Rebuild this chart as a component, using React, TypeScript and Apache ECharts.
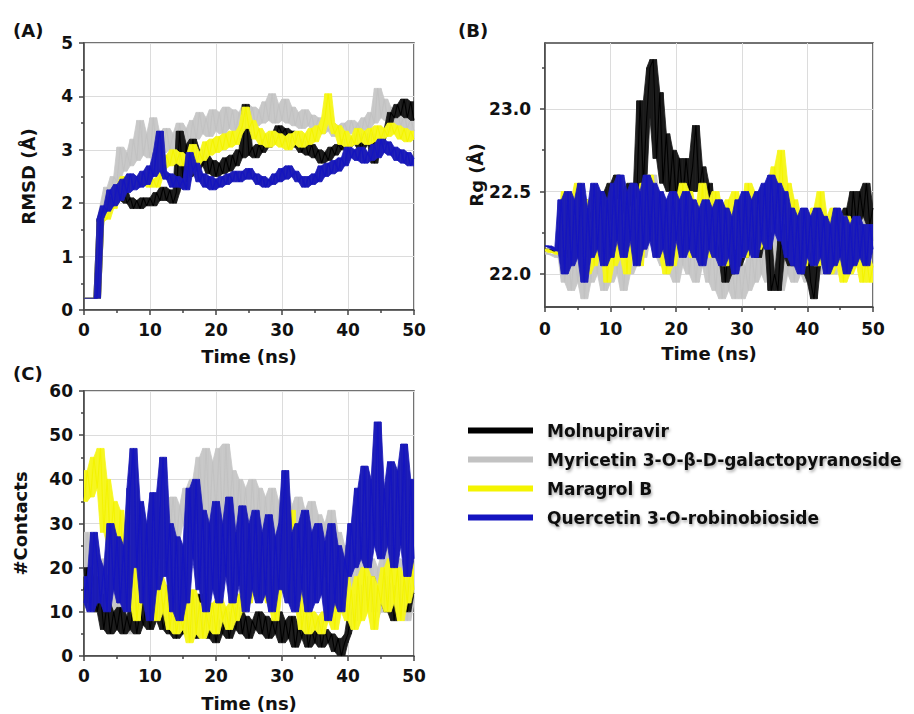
import { useEffect, useRef } from "react";
import * as echarts from "echarts";

const NAMES = [
  "Molnupiravir",
  "Myricetin 3-O-β-D-galactopyranoside",
  "Maragrol B",
  "Quercetin 3-O-robinobioside",
];
const COLORS = ["#000000", "#c2c2c2", "#f4f400", "#1414c0"];
const BAND_COLORS = ["#1a1a1a", "#c8c8c8", "#f6f620", "#1c1cb8"];
const STEP = 0.5; // ns between samples
const RG_LABELS = [22.0, 22.5, 23.0];
const RG_MINOR = [22.25, 22.75, 23.25];

// (A) RMSD (Å)
const RMSD_MOL = [0.22,0.22,0.22,0.22,0.22, 1.7,1.9,1.8,2.1,1.95, 2.2,2.05,2.3,2.0,2.1, 1.9,2.05,1.9,2.1,1.95, 2.1,1.95,2.2,2.05,2.3, 2.05,2.25,2.0,2.2,3.35, 2.4,3.1,2.5,3.2,2.6, 3.0,2.7,2.9,2.55,2.8, 2.5,2.75,2.55,2.85,2.6, 2.9,2.7,3.0,2.85,3.85, 2.9,3.05,2.85,3.1,2.95, 3.2,3.05,3.3,3.2,3.45, 3.3,3.4,3.15,3.35,3.05, 3.2,2.95,3.15,2.9,3.1, 2.85,3.0,2.75,2.95,2.8, 3.05,2.9,3.1,3.0,3.2, 3.05,3.25,3.1,3.3,3.0, 3.25,3.1,3.3,2.75,3.2, 3.1,3.4,3.35,3.7,3.6, 3.85,3.65,3.95,3.6,3.9, 3.55];
const RMSD_MYR = [0.22,0.22,0.22,0.22,0.22, 1.7,2.0,2.3,2.1,2.5, 2.4,3.05,2.6,2.95,2.7, 3.2,2.8,3.55,2.9,3.3, 2.85,3.6,3.0,3.3,2.95, 3.4,3.0,3.3,3.05,3.5, 3.0,3.4,3.1,3.55,3.2, 3.7,3.3,3.6,3.25,3.75, 3.35,3.7,3.3,3.8,3.4, 3.75,3.35,3.7,3.4,3.85, 3.5,3.8,3.45,3.75,3.5, 3.9,3.55,4.05,3.5,3.85, 3.55,3.95,3.5,3.8,3.45, 3.7,3.4,3.75,3.45,3.65, 3.35,3.6,3.3,3.55,3.35, 3.5,3.25,3.45,3.3,3.5, 3.3,3.55,3.35,3.5,3.3, 3.6,3.4,3.7,3.5,4.15, 3.6,3.95,3.55,3.8,3.5, 3.7,3.45,3.65,3.4,3.6, 3.35];
const RMSD_MAR = [0.22,0.22,0.22,0.22,0.22, 1.65,1.8,1.7,1.95,1.9, 2.2,2.35,2.5,2.25,2.45, 2.3,2.4,2.5,2.35,2.55, 2.3,2.45,2.3,2.5,2.65, 2.9,2.7,3.0,2.75,2.95, 2.7,2.9,2.75,3.1,2.7, 2.95,2.8,3.15,2.9,3.2, 2.95,3.25,3.0,3.3,3.05, 3.35,3.1,3.3,3.45,3.8, 3.4,3.55,3.2,3.4,3.1, 3.3,3.05,3.35,3.1,3.3, 3.05,3.25,3.0,3.3,3.1, 3.35,3.05,3.3,3.1,3.4, 3.15,3.45,3.3,3.6,4.05, 3.5,3.3,3.45,3.1,3.35, 3.05,3.25,3.1,3.4,3.15, 3.35,3.1,3.4,3.15,3.45, 3.2,3.4,3.25,3.5,3.3, 3.45,3.2,3.4,3.15,3.35, 3.2];
const RMSD_QUE = [0.22,0.22,0.22,0.22,0.22, 1.72,1.95,1.85,2.25,1.95, 2.35,2.05,2.45,2.2,2.55, 2.25,2.5,2.3,2.6,2.35, 2.7,2.5,2.95,3.35,2.6, 2.45,2.55,2.3,2.5,2.3, 2.45,2.25,2.95,2.6,2.75, 2.4,2.55,2.3,2.5,2.25, 2.45,2.3,2.5,2.35,2.55, 2.4,2.6,2.4,2.6,2.45, 2.65,2.45,2.55,2.35,2.5, 2.3,2.45,2.35,2.55,2.4, 2.65,2.45,2.7,2.5,2.6, 2.4,2.5,2.3,2.5,2.35, 2.55,2.4,2.7,2.5,2.75, 2.55,2.8,2.6,2.85,2.7, 3.05,2.85,3.0,2.8,3.05, 2.75,2.95,2.8,3.1,2.85, 3.2,2.95,3.15,2.9,3.05, 2.8,3.0,2.75,2.95,2.7, 2.85];

// (B) Rg (Å)
const RG_MOL = [22.15,22.15,22.14,22.14,22.13, 22.2,22.4,22.1,22.35,22.15, 22.4,22.2,22.45,22.15,22.35, 22.2,22.45,22.25,22.5,22.3, 22.55,22.35,22.6,22.3,22.5, 22.35,22.55,22.4,22.5,23.05, 22.55,22.95,23.25,23.3,22.7, 23.1,22.55,22.85,22.5,22.75, 22.45,22.7,22.45,22.7,22.5, 22.65,22.9,22.5,22.65,22.4, 22.55,22.2,22.35,22.1,22.25, 21.95,22.2,22.0,22.3,22.05, 22.25,22.1,22.3,22.15,22.35, 22.1,22.3,22.2,22.25,21.9, 22.0,21.9,22.2,22.1,22.3, 22.05,22.25,22.1,22.3,22.0, 22.2,21.95,21.85,22.05,22.3, 22.1,22.35,22.15,22.3,22.1, 22.35,22.15,22.4,22.25,22.5, 22.3,22.5,22.35,22.55,22.3, 22.4];
const RG_MYR = [22.13,22.12,22.12,22.11,22.1, 22.25,21.95,22.2,21.9,22.15, 21.95,22.3,21.85,22.2,21.95, 22.25,22.0,22.35,21.9,22.2, 21.95,22.3,22.0,22.25,21.9, 22.2,22.0,22.35,22.05,22.4, 22.1,22.5,22.2,22.6,22.1, 22.45,22.05,22.35,22.0,22.3, 21.95,22.25,22.05,22.3,22.0, 22.25,21.95,22.2,22.05,22.3, 21.95,22.2,21.9,22.15,21.85, 22.1,21.9,22.05,21.85,22.1, 21.85,22.05,21.9,22.15,21.95, 22.2,22.0,22.25,21.95,22.2, 22.05,22.3,21.9,22.25,22.0, 22.3,21.95,22.2,22.0,22.25, 21.95,22.2,22.05,22.3,22.0, 22.25,22.05,22.3,22.0,22.25, 22.1,22.35,22.05,22.3,22.1, 22.4,22.15,22.45,22.1,22.4, 22.2];
const RG_MAR = [22.15,22.14,22.13,22.13,22.12, 22.3,22.5,22.15,22.45,22.1, 22.55,22.2,22.45,22.0,22.3, 22.05,22.5,22.15,22.4,21.95, 22.3,22.05,22.45,22.1,22.35, 22.0,22.4,22.15,22.45,22.05, 22.55,22.3,22.6,22.2,22.45, 22.1,22.3,22.0,22.25,22.05, 22.45,22.15,22.55,22.2,22.5, 22.1,22.4,22.15,22.55,22.2, 22.45,22.1,22.5,22.2,22.4, 22.05,22.45,22.15,22.5,22.2, 22.4,22.1,22.55,22.25,22.5, 22.15,22.45,22.2,22.55,22.3, 22.65,22.4,22.75,22.35,22.55, 22.2,22.45,22.1,22.35,22.05, 22.3,22.15,22.4,22.05,22.5, 22.1,22.35,22.0,22.4,22.05, 22.3,21.95,22.35,22.0,22.3, 22.05,22.25,21.95,22.1,21.95, 22.05];
const RG_QUE = [22.17,22.17,22.16,22.15,22.14, 22.45,22.0,22.5,22.05,22.45, 22.1,22.55,21.95,22.4,22.1, 22.55,22.15,22.5,22.05,22.45, 22.1,22.55,22.2,22.6,22.1, 22.5,22.2,22.55,22.05,22.5, 22.15,22.6,22.2,22.55,22.1, 22.5,22.15,22.45,22.05,22.5, 22.2,22.45,22.1,22.5,22.15, 22.45,22.1,22.4,22.05,22.45, 22.15,22.4,22.1,22.45,22.05, 22.4,22.1,22.35,22.0,22.45, 22.1,22.5,22.15,22.45,22.1, 22.5,22.2,22.55,22.15,22.6, 22.25,22.55,22.2,22.5,22.1, 22.4,22.05,22.35,22.0,22.4, 22.1,22.35,22.05,22.4,22.1, 22.35,22.0,22.3,22.05,22.4, 22.1,22.35,22.0,22.3,22.05, 22.35,22.1,22.3,22.05,22.3, 22.15];

// (C) #Contacts
const CT_MOL = [15,20,12,18,10, 14,6,12,5,10, 6,11,5,9,6, 12,5,10,7,13, 6,11,8,12,6, 10,5,9,4,8, 5,10,6,12,4, 14,5,10,4,9, 3,8,5,10,4, 9,6,11,5,9, 4,8,6,10,5, 9,4,8,5,10, 3,8,4,9,2, 7,4,9,2,6, 3,8,2,6,3, 5,1,4,0,3, 5,10,8,14,10, 16,12,18,10,15, 12,18,10,16,8, 14,12,18,10,16, 14];
const CT_MYR = [18,28,20,26,15, 22,8,18,6,20, 8,22,10,18,5, 15,8,25,12,28, 20,35,25,33,22, 35,28,36,26,34, 30,38,28,40,30, 45,32,47,30,44, 33,47,30,48,32, 42,28,40,30,38, 26,40,28,38,25, 36,27,38,24,35, 25,38,22,34,24, 36,20,33,22,35, 20,32,18,30,20, 33,15,28,12,25, 10,20,12,22,10, 25,12,22,8,20, 10,23,12,25,8, 22,10,20,8,18, 12];
const CT_MAR = [35,42,36,45,38, 47,28,40,25,35, 20,33,18,25,12, 20,8,15,22,30, 10,15,8,18,10, 16,6,12,5,10, 6,12,3,15,5, 12,4,10,6,12, 5,13,8,11,6, 12,8,14,10,16, 12,20,18,28,16, 25,12,18,8,15, 20,30,22,33,12, 18,6,12,5,10, 6,9,5,10,8, 14,6,18,10,20, 8,15,6,18,8, 20,10,18,6,16, 12,20,10,22,12, 20,8,18,12,22, 15];
const CT_QUE = [12,18,10,28,22, 12,20,10,30,15, 27,12,25,10,38, 47,20,35,12,30, 8,37,15,33,45, 18,30,10,27,8, 25,12,38,22,40, 15,33,10,30,15, 35,12,30,18,36, 12,28,16,34,10, 30,15,33,12,28, 14,32,10,27,15, 30,42,12,28,10, 30,15,33,10,28, 12,30,14,26,8, 30,12,25,10,22, 18,30,20,38,22, 43,20,40,25,53, 22,38,25,44,20, 42,25,48,18,40, 22];

const FONT = "DejaVu Sans";
const TEXT = "#111";

export default function App() {
  const ref = useRef<HTMLDivElement>(null);
  useEffect(() => {
    if (!ref.current) return;
    const chart = echarts.init(ref.current, undefined, { renderer: "svg" });
    const pairs = (arr: number[]) => arr.map((v, i) => [i * STEP, v]);
    // envelope of the trace (its local min / max over neighbouring samples)
    const env = (arr: number[], up: boolean) =>
      arr.map((_, i) => {
        const w = arr.slice(Math.max(0, i - 1), i + 2);
        return up ? Math.max(...w) : Math.min(...w);
      });
    // band segments: [t0, lo0, hi0, t1, lo1, hi1]
    const bandRows = (trace: number[]) => {
      const lo = env(trace, false);
      const hi = env(trace, true);
      const rows: number[][] = [];
      for (let i = 0; i < trace.length - 1; i++) {
        if (hi[i] - lo[i] < 1e-9 && hi[i + 1] - lo[i + 1] < 1e-9) continue;
        rows.push([i * STEP, lo[i], hi[i], (i + 1) * STEP, lo[i + 1], hi[i + 1]]);
      }
      return rows;
    };
    const axisLine = { show: true, lineStyle: { color: "#444", width: 1.5 } };
    const split = { show: true, lineStyle: { color: "#dcdcdc", width: 1 } };
    const tickStyle = { color: "#444", width: 1.5 };
    const label = (margin: number, extra: any = {}) => ({
      color: TEXT, fontFamily: FONT, fontWeight: "bold", fontSize: 17, margin, ...extra,
    });
    const nameStyle = { color: TEXT, fontFamily: FONT, fontWeight: "bold", fontSize: 18 };
    const xAxis = (gridIndex: number, gap: number, margin: number) => ({
      type: "value", gridIndex, min: 0, max: 50, interval: 10,
      axisLine, splitLine: split,
      axisTick: { show: true, length: 5, lineStyle: tickStyle },
      minorTick: { show: true, splitNumber: 2, length: 3, lineStyle: tickStyle },
      axisLabel: label(margin),
      name: "Time (ns)", nameLocation: "middle", nameGap: gap, nameTextStyle: nameStyle,
    });
    const groups = [
      { grid: 0, data: [RMSD_MOL, RMSD_MYR, RMSD_MAR, RMSD_QUE] },
      { grid: 1, data: [RG_MOL, RG_MYR, RG_MAR, RG_QUE] },
      { grid: 2, data: [CT_MOL, CT_MYR, CT_MAR, CT_QUE] },
    ];
    const drawOrder = [1, 0, 2, 3];
    const series: any[] = [];
    groups.forEach((g) => {
      drawOrder.forEach((k, order) => {
        const trace = g.data[k];
        const fill = BAND_COLORS[k];
        series.push({
          type: "custom", name: `band ${g.grid}-${k}`, xAxisIndex: g.grid, yAxisIndex: g.grid,
          silent: true, clip: true, z: 2 + order * 2,
          data: bandRows(trace),
          encode: { x: [0, 3], y: [1, 2, 4, 5] },
          renderItem: (_p: any, api: any) => {
            const a = api.coord([api.value(0), api.value(1)]);
            const b = api.coord([api.value(3), api.value(4)]);
            const c = api.coord([api.value(3), api.value(5)]);
            const d = api.coord([api.value(0), api.value(2)]);
            return {
              type: "polygon",
              shape: { points: [a, b, c, d] },
              style: { fill, stroke: fill, lineWidth: 0.8 },
            };
          },
        });
        series.push({
          type: "line", name: NAMES[k], xAxisIndex: g.grid, yAxisIndex: g.grid,
          data: pairs(trace), symbol: "none", showSymbol: false, silent: true,
          emphasis: { disabled: true }, clip: true, z: 3 + order * 2,
          lineStyle: { color: COLORS[k], width: 1.1 }, itemStyle: { color: COLORS[k] },
        });
      });
    });
    const gridBase = { show: true, borderColor: "#444", borderWidth: 1.5, backgroundColor: "transparent" };
    chart.setOption({
      animation: false,
      backgroundColor: "#ffffff",
      grid: [
        { ...gridBase, left: 84, top: 43, width: 330, height: 267 },
        { ...gridBase, left: 545, top: 43, width: 328, height: 264 },
        { ...gridBase, left: 84, top: 391, width: 330, height: 265 },
      ],
      xAxis: [xAxis(0, 37, 11), xAxis(1, 37, 13), xAxis(2, 38, 11)],
      yAxis: [
        {
          type: "value", gridIndex: 0, min: 0, max: 5, interval: 1,
          axisLine, splitLine: split,
          axisTick: { show: true, length: 5, lineStyle: tickStyle },
          minorTick: { show: true, splitNumber: 2, length: 3, lineStyle: tickStyle },
          axisLabel: label(11),
          name: "RMSD (Å)", nameLocation: "middle", nameRotate: 90, nameGap: 47, nameTextStyle: nameStyle,
        },
        {
          type: "value", gridIndex: 1, min: 21.8, max: 23.4,
          axisLine, splitLine: split,
          axisTick: { show: true, length: 5, customValues: RG_LABELS, lineStyle: tickStyle },
          axisLabel: label(14, { customValues: RG_LABELS, formatter: (v: number) => v.toFixed(1) }),
          name: "Rg (Å)", nameLocation: "middle", nameRotate: 90, nameGap: 56, nameTextStyle: nameStyle,
        },
        {
          type: "value", gridIndex: 2, min: 0, max: 60, interval: 10,
          axisLine, splitLine: split,
          axisTick: { show: true, length: 5, lineStyle: tickStyle },
          minorTick: { show: true, splitNumber: 2, length: 3, lineStyle: tickStyle },
          axisLabel: label(11),
          name: "#Contacts", nameLocation: "middle", nameRotate: 90, nameGap: 55, nameTextStyle: nameStyle,
        },
        {
          type: "value", gridIndex: 1, min: 21.8, max: 23.4, position: "left",
          axisLine: { show: false }, splitLine: { show: false }, axisLabel: { show: false },
          axisTick: { show: true, length: 3, customValues: RG_MINOR, lineStyle: tickStyle },
        },
      ],
      legend: {
        data: NAMES, orient: "vertical", left: 463, top: 417,
        itemWidth: 65, itemHeight: 6, itemGap: 12, icon: "rect",
        selectedMode: false,
        textStyle: {
          color: TEXT, fontFamily: FONT, fontWeight: "bold", fontSize: 17,
          textShadowColor: "rgba(0,0,0,0.35)", textShadowBlur: 3, textShadowOffsetX: 1, textShadowOffsetY: 2,
          padding: [0, 0, 0, 9],
        },
      },
      graphic: [
        { type: "text", left: 13, top: 21, style: { text: "(A)", fill: TEXT, font: `bold 18px '${FONT}'` } },
        { type: "text", left: 458, top: 21, style: { text: "(B)", fill: TEXT, font: `bold 18px '${FONT}'` } },
        { type: "text", left: 13, top: 364, style: { text: "(C)", fill: TEXT, font: `bold 18px '${FONT}'` } },
      ],
      series,
    });
    return () => chart.dispose();
  }, []);
  return (
    <div
      ref={ref}
      style={{ position: "fixed", left: 0, top: 0, width: 914, height: 714 }}
    />
  );
}
